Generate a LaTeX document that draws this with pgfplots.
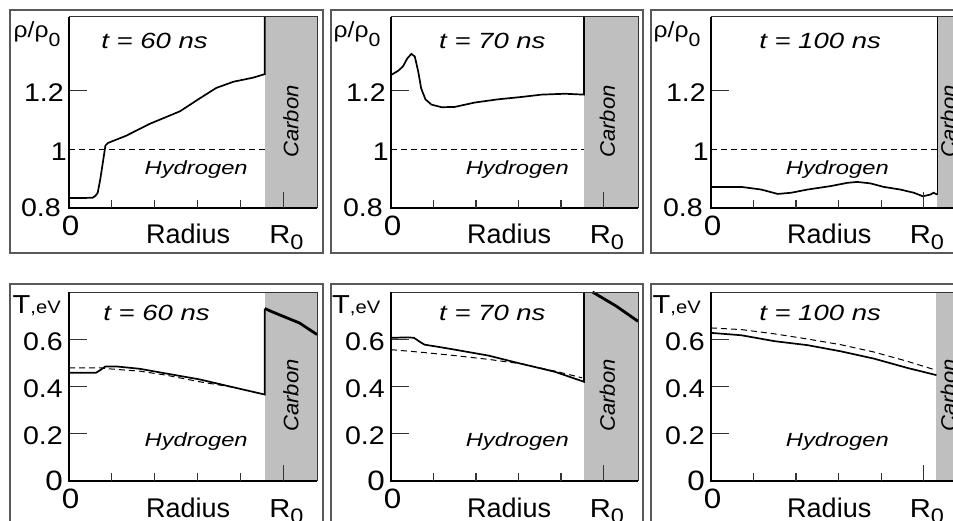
\documentclass[border=0pt]{standalone}
\usepackage{pgfplots}
\pgfplotsset{compat=1.18}
\usepackage{fontspec}
\setmainfont{Liberation Sans}
\newfontfamily\tickf{Liberation Sans}[FakeStretch=1.12]
\newfontfamily\labf{Liberation Sans}[FakeStretch=1.25]
\newfontfamily\carbf{Liberation Sans}[FakeStretch=1.05]

\definecolor{carbon}{gray}{0.75}
\definecolor{framegray}{gray}{0.35}
\newcommand\fs[1]{\fontsize{#1}{#1}\selectfont}

\tikzset{tk/.style={black!80, line width=1.2pt}}
\pgfplotsset{
  panel/.style={scale only axis, clip=false, anchor=south west, xmin=0,
    axis line style={draw=none}, xtick=\empty, ytick=\empty},
  toprow/.style={ymin=0.8, ymax=1.452, height=191pt},
  botrow/.style={ymin=0, ymax=0.8, height=189pt},
  curve/.style={black, line width=1.7pt, no marks},
  hot/.style={black, line width=2.8pt, no marks},
  ref/.style={black, line width=1pt, dash pattern=on 6pt off 4pt, no marks},
}

% gray carbon wall: start, end, ymin, ymax
\newcommand\carbonfill[4]{%
  \addplot[fill=carbon, draw=none, forget plot] coordinates {(#1,#3) (#1,#4) (#2,#4) (#2,#3)} -- cycle;}
% box, x ticks and x labels; #1 = ymin
\newcommand\spines[1]{%
  \draw[black!80, line width=1pt] (rel axis cs:0,1) -- (rel axis cs:1,1) -- (rel axis cs:1,0);
  \draw[black, line width=2.2pt] (rel axis cs:0,1) -- (rel axis cs:0,0) -- (rel axis cs:1,0);
  \pgfplotsinvokeforeach{1,2,3,4}{\draw[tk] (axis cs:##1,#1) -- ++(0pt,8pt);}
  \draw[tk] (axis cs:5,#1) -- ++(0pt,16pt);
  \node[anchor=base, yshift=-36pt, inner sep=0pt, font=\fs{27}] at (axis cs:2.78,#1) {Radius};
  \node[anchor=base west, yshift=-36pt, xshift=-14pt, inner sep=0pt, font=\tickf\fs{26}] at (axis cs:5,#1) {R\raisebox{-6pt}{\fs{21}0}};
  \node[anchor=north, yshift=-8pt, xshift=1.5pt, inner sep=0pt, font=\tickf\fs{28}] at (axis cs:0,#1) {0};}
% y tick mark
\newcommand\ytk[1]{\draw[tk] (axis cs:0,#1) -- ++(18pt,0pt);}
% y tick label: value, text, xshift, yshift
\newcommand\ytl[4]{\node[anchor=east, inner sep=0pt, xshift=#3, yshift=#4, font=\tickf\fs{25.5}] at (axis cs:0,#1) {#2};}
\newcommand\toplabels{\ytk{1.2}\ytl{1.2}{1.2}{-5pt}{-1.5pt}\ytl{1}{1}{-2pt}{-2.5pt}\ytl{0.8}{0.8}{-8pt}{0pt}}
\newcommand\botlabels{\ytk{0.2}\ytk{0.4}\ytk{0.6}%
  \ytl{0.6}{0.6}{-6pt}{-2pt}\ytl{0.4}{0.4}{-6pt}{-2pt}\ytl{0.2}{0.2}{-6pt}{-2pt}\ytl{0}{\fs{28}0}{-6pt}{0pt}}
\newcommand\rholab{ρ/ρ\raisebox{-9pt}{\fs{19}0}}

\begin{document}
\begin{tikzpicture}
\useasboundingbox (0,0) rectangle (953pt,-521pt);

% panel frames
\draw[framegray, line width=1.2pt] (10pt,-10pt) rectangle (323pt,-253pt);
\draw[framegray, line width=1.2pt] (331pt,-10pt) rectangle (643pt,-253pt);
\draw[framegray, line width=1.2pt] (651pt,-10pt) rectangle (990pt,-253pt);
\draw[framegray, line width=1.2pt] (10pt,-284pt) rectangle (323pt,-560pt);
\draw[framegray, line width=1.2pt] (331pt,-284pt) rectangle (643pt,-560pt);
\draw[framegray, line width=1.2pt] (651pt,-284pt) rectangle (990pt,-560pt);

% y labels
\node[anchor=north west, inner sep=0pt, font=\tickf\fs{22}] at (13.5pt,-21pt) {\rholab};
\node[anchor=north west, inner sep=0pt, font=\tickf\fs{22}] at (333.5pt,-21pt) {\rholab};
\node[anchor=north west, inner sep=0pt, font=\tickf\fs{22}] at (653.5pt,-21pt) {\rholab};
\node[anchor=north west, inner sep=0pt, font=\tickf] at (12.5pt,-295pt) {\fs{26}T\fs{18},eV};
\node[anchor=north west, inner sep=0pt, font=\tickf] at (332pt,-295pt) {\fs{26}T\fs{18},eV};
\node[anchor=north west, inner sep=0pt, font=\tickf] at (652.5pt,-295pt) {\fs{26}T\fs{18},eV};

% ---------- density, t = 60 ns
\begin{axis}[panel, toprow, at={(69pt,-208pt)}, width=248pt, xmax=5.79]
\carbonfill{4.57}{5.79}{0.8}{1.452}
\addplot[ref] coordinates {(0,1) (4.57,1)};
\addplot[curve] coordinates {(0,0.834) (0.3,0.834) (0.55,0.835) (0.62,0.842) (0.67,0.852)
  (0.73,0.898) (0.79,0.955) (0.85,1.013) (0.91,1.022) (1.34,1.047) (1.88,1.087) (2.59,1.13)
  (3.05,1.174) (3.44,1.21) (3.84,1.231) (4.30,1.245) (4.57,1.257) (4.57,1.452)};
\toplabels
\spines{0.8}
\node[anchor=base west, inner sep=0pt, font=\labf\fs{22}\itshape] at (axis cs:0.75,1.346) {t = 60 ns};
\node[anchor=base, inner sep=0pt, font=\labf\fs{19}\itshape] at (axis cs:2.97,0.913) {Hydrogen};
\node[rotate=90, font=\carbf\fs{21}\itshape] at (axis cs:5.18,1.095) {Carbon};
\end{axis}

% ---------- density, t = 70 ns
\begin{axis}[panel, toprow, at={(391pt,-208pt)}, width=247pt, xmax=5.81]
\carbonfill{4.54}{5.81}{0.8}{1.452}
\addplot[ref] coordinates {(0,1) (4.54,1)};
\addplot[curve] coordinates {(0,1.254) (0.165,1.268) (0.28,1.283) (0.385,1.311) (0.48,1.326)
  (0.56,1.317) (0.64,1.266) (0.71,1.208) (0.81,1.171) (0.95,1.153) (1.19,1.144) (1.50,1.145)
  (1.97,1.160) (2.52,1.171) (3.07,1.179) (3.54,1.187) (4.09,1.19) (4.54,1.187) (4.54,1.452)};
\toplabels
\spines{0.8}
\node[anchor=base west, inner sep=0pt, font=\labf\fs{22}\itshape] at (axis cs:1.13,1.346) {t = 70 ns};
\node[anchor=base, inner sep=0pt, font=\labf\fs{19}\itshape] at (axis cs:2.97,0.913) {Hydrogen};
\node[rotate=90, font=\carbf\fs{21}\itshape] at (axis cs:5.09,1.095) {Carbon};
\end{axis}

% ---------- density, t = 100 ns
\begin{axis}[panel, toprow, at={(711pt,-208pt)}, width=248pt, xmax=5.83]
\carbonfill{5.32}{5.83}{0.8}{1.452}
\addplot[ref] coordinates {(0,1) (5.32,1)};
\addplot[curve] coordinates {(0,0.872) (0.71,0.872) (1.18,0.863) (1.57,0.848) (1.88,0.852)
  (2.27,0.863) (2.82,0.875) (3.21,0.886) (3.44,0.889) (3.75,0.884) (4.06,0.872) (4.45,0.863)
  (4.77,0.852) (4.98,0.84) (5.16,0.846) (5.23,0.852) (5.32,0.846)};
\addplot[black, line width=0.8pt, no marks] coordinates {(5.32,0.846) (5.32,1.452)};
\toplabels
\spines{0.8}
\node[anchor=base west, inner sep=0pt, font=\labf\fs{22}\itshape] at (axis cs:1.13,1.346) {t = 100 ns};
\node[anchor=base, inner sep=0pt, font=\labf\fs{19}\itshape] at (axis cs:2.97,0.913) {Hydrogen};
\node[rotate=90, font=\carbf\fs{21}\itshape] at (axis cs:5.58,1.095) {Carbon};
\end{axis}

% ---------- temperature, t = 60 ns
\begin{axis}[panel, botrow, at={(69pt,-481pt)}, width=248pt, xmax=5.79]
\carbonfill{4.57}{5.79}{0}{0.8}
\addplot[ref] coordinates {(0,0.479) (0.75,0.479) (0.85,0.476) (1.65,0.465) (2.27,0.448)
  (3.05,0.42) (3.83,0.397)};
\addplot[curve] coordinates {(0,0.458) (0.63,0.458) (0.75,0.472) (0.85,0.485) (1.10,0.485)
  (1.65,0.475) (2.27,0.455) (3.05,0.430) (3.83,0.397) (4.57,0.366) (4.57,0.730)};
\addplot[hot] coordinates {(4.57,0.730) (4.76,0.715) (5.38,0.669) (5.79,0.620)};
\botlabels
\spines{0}
\node[anchor=base west, inner sep=0pt, font=\labf\fs{22}\itshape] at (axis cs:0.8,0.681) {t = 60 ns};
\node[anchor=base, inner sep=0pt, font=\labf\fs{19}\itshape] at (axis cs:2.97,0.144) {Hydrogen};
\node[rotate=90, font=\carbf\fs{21}\itshape] at (axis cs:5.18,0.362) {Carbon};
\end{axis}

% ---------- temperature, t = 70 ns
\begin{axis}[panel, botrow, at={(391pt,-481pt)}, width=247pt, xmax=5.81]
\carbonfill{4.54}{5.81}{0}{0.8}
\addplot[ref] coordinates {(0,0.556) (0.71,0.545) (1.50,0.531) (2.29,0.515) (3.07,0.496)
  (3.86,0.465) (4.49,0.437)};
\addplot[curve] coordinates {(0,0.606) (0.40,0.608) (0.54,0.606) (0.68,0.589) (0.79,0.577)
  (1.11,0.568) (1.50,0.556) (2.29,0.531) (3.07,0.496) (3.86,0.462) (4.54,0.420) (4.54,0.8)};
\addplot[hot] coordinates {(4.74,0.8) (5.30,0.74) (5.81,0.676)};
\botlabels
\spines{0}
\node[anchor=base west, inner sep=0pt, font=\labf\fs{22}\itshape] at (axis cs:1.13,0.681) {t = 70 ns};
\node[anchor=base, inner sep=0pt, font=\labf\fs{19}\itshape] at (axis cs:2.97,0.144) {Hydrogen};
\node[rotate=90, font=\carbf\fs{21}\itshape] at (axis cs:5.09,0.362) {Carbon};
\end{axis}

% ---------- temperature, t = 100 ns
\begin{axis}[panel, botrow, at={(711pt,-481pt)}, width=248pt, xmax=5.83]
\carbonfill{5.30}{5.83}{0}{0.8}
\addplot[ref] coordinates {(0,0.648) (0.71,0.641) (1.49,0.623) (2.27,0.601) (3.05,0.577)
  (3.83,0.546) (4.61,0.507) (5.24,0.472)};
\addplot[curve] coordinates {(0,0.627) (0.71,0.617) (1.49,0.592) (2.27,0.575) (3.05,0.549)
  (3.83,0.518) (4.61,0.479) (5.30,0.448)};
\botlabels
\spines{0}
\node[anchor=base west, inner sep=0pt, font=\labf\fs{22}\itshape] at (axis cs:1.13,0.681) {t = 100 ns};
\node[anchor=base, inner sep=0pt, font=\labf\fs{19}\itshape] at (axis cs:2.97,0.144) {Hydrogen};
\node[rotate=90, font=\carbf\fs{21}\itshape] at (axis cs:5.58,0.362) {Carbon};
\end{axis}
\end{tikzpicture}
\end{document}
